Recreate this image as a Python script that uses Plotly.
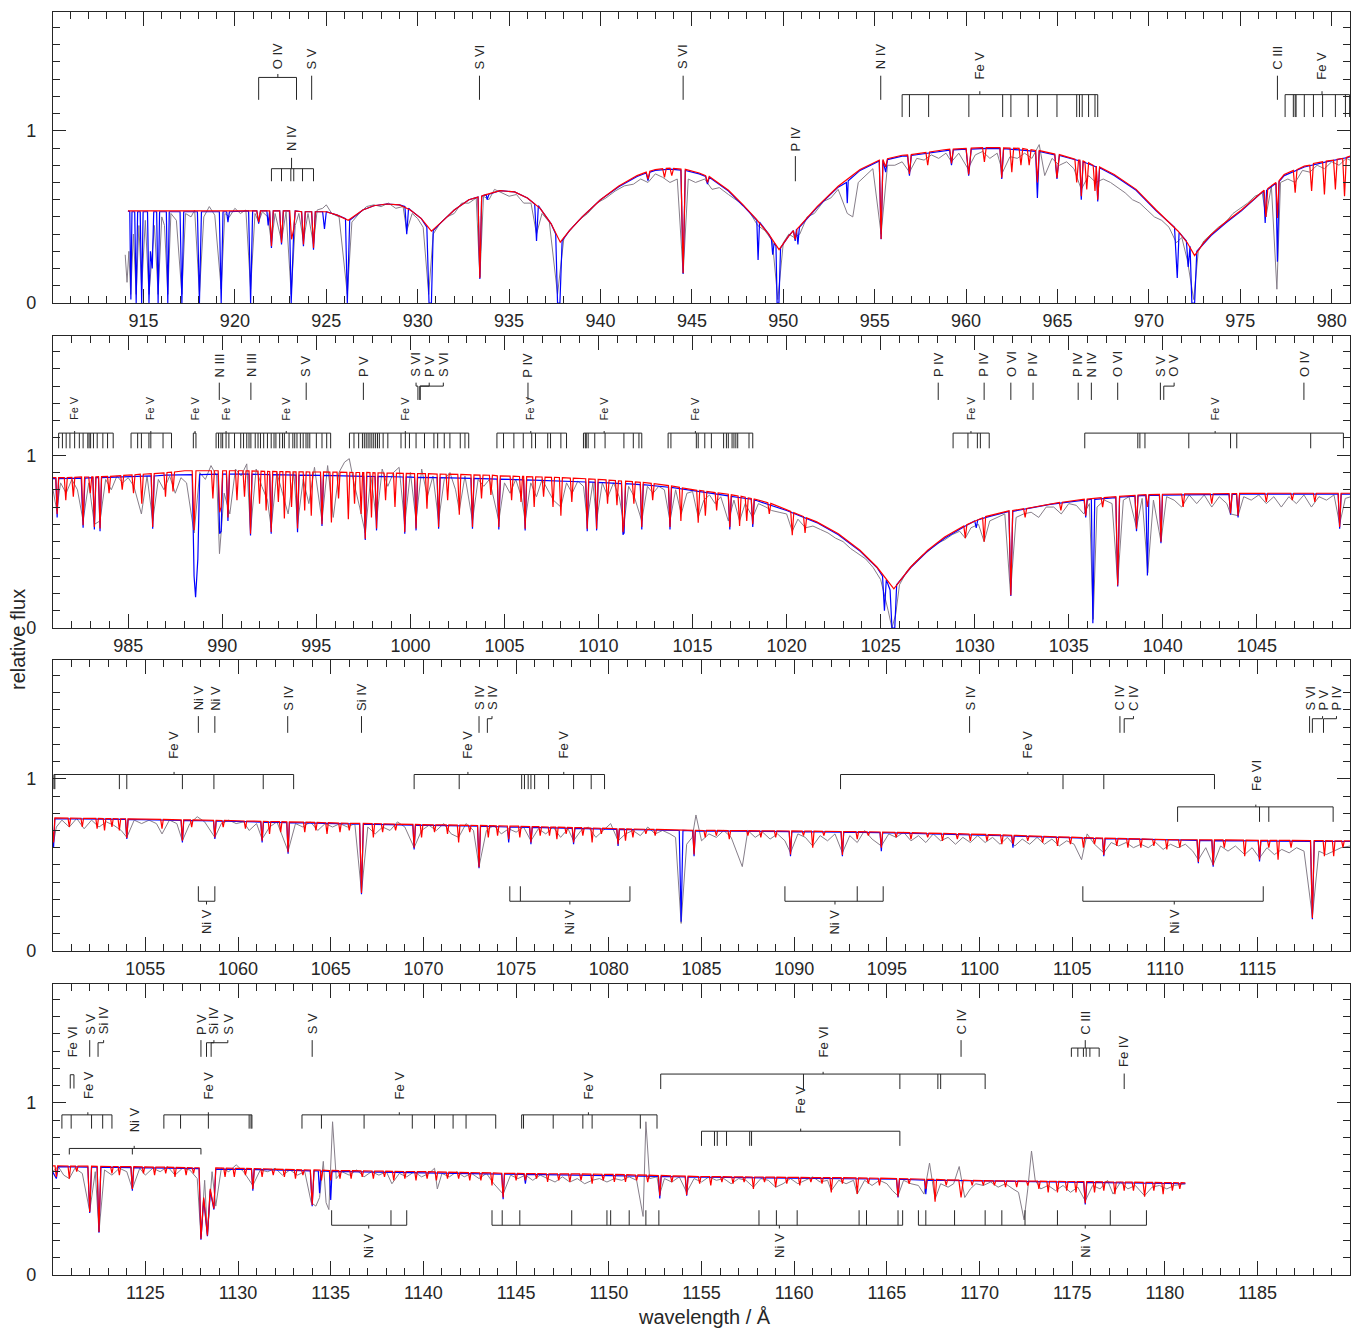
import plotly.graph_objects as go

# ------------------------------------------------------------------
# DATA
# ------------------------------------------------------------------
PANEL_RANGES = [(910.05, 981.0), (981.0, 1049.95), (1050.02, 1119.98), (1120.02, 1189.98)]
Y_RANGE = (0.0, 1.69)

# ---------------- panel 1 : 910 - 981 A ----------------
P1_GREY = [(914.0,0.28),(914.1,0.12),(914.2,0.30),(914.3,0.05),(914.45,0.40),(914.6,0.05),(914.75,0.45),(914.9,0.08),(915.1,0.48),(915.3,0.05),(915.45,0.25),(915.6,0.45),(915.8,0.05),(916.0,0.50),(916.15,0.45),(916.33,0.05),(916.5,0.52),(916.8,0.48),(917.1,0.05),(917.3,0.52),(917.6,0.50),(917.8,0.54),(918.06,0.05),(918.3,0.50),(918.6,0.56),(918.9,0.51),(919.25,0.08),(919.45,0.52),(919.7,0.50),(920.0,0.55),(920.3,0.52),(920.6,0.54),(920.86,0.08),(921.1,0.52),(921.3,0.47),(921.5,0.53),(921.8,0.50),(922.0,0.35),(922.2,0.52),(922.55,0.36),(922.8,0.53),(923.08,0.05),(923.3,0.45),(923.5,0.52),(923.75,0.36),(924.0,0.52),(924.3,0.34),(924.5,0.54),(924.8,0.55),(925.0,0.57),(925.3,0.52),(925.7,0.50),(926.15,0.05),(926.4,0.47),(926.8,0.52),(927.2,0.56),(927.6,0.57),(928.0,0.56),(928.4,0.58),(928.8,0.55),(929.2,0.56),(929.4,0.42),(929.7,0.52),(930.0,0.49),(930.3,0.44),(930.6,0.05),(930.85,0.40),(931.2,0.46),(931.6,0.50),(932.0,0.52),(932.4,0.58),(932.8,0.58),(933.2,0.61),(933.4,0.15),(933.6,0.62),(933.9,0.60),(934.2,0.66),(934.6,0.64),(935.0,0.62),(935.4,0.63),(935.8,0.58),(936.2,0.58),(936.5,0.40),(936.8,0.52),(937.2,0.47),(937.65,0.05),(938.0,0.38),(938.4,0.43),(938.8,0.48),(939.3,0.52),(939.8,0.58),(940.3,0.61),(940.8,0.65),(941.3,0.68),(941.8,0.69),(942.2,0.72),(942.6,0.70),(943.0,0.75),(943.4,0.73),(943.8,0.70),(944.2,0.72),(944.52,0.17),(944.8,0.72),(945.2,0.70),(945.7,0.72),(946.1,0.66),(946.5,0.67),(947.0,0.63),(947.4,0.60),(947.8,0.57),(948.2,0.52),(948.6,0.45),(949.0,0.42),(949.4,0.36),(949.7,0.02),(950.0,0.35),(950.3,0.40),(950.6,0.38),(950.9,0.40),(951.3,0.50),(951.7,0.52),(952.2,0.59),(952.6,0.61),(953.0,0.66),(953.5,0.52),(953.8,0.50),(954.1,0.70),(954.5,0.74),(954.9,0.78),(955.35,0.40),(955.7,0.80),(956.1,0.80),(956.5,0.82),(956.9,0.76),(957.3,0.84),(957.7,0.83),(958.1,0.86),(958.5,0.84),(958.9,0.87),(959.2,0.82),(959.6,0.87),(960.1,0.78),(960.5,0.86),(960.9,0.88),(961.3,0.84),(961.7,0.87),(962.0,0.76),(962.4,0.85),(962.8,0.84),(963.2,0.87),(963.6,0.84),(964.0,0.92),(964.3,0.74),(964.7,0.84),(965.1,0.80),(965.5,0.82),(965.9,0.78),(966.3,0.66),(966.7,0.74),(967.1,0.70),(967.5,0.72),(967.9,0.70),(968.3,0.67),(968.7,0.64),(969.1,0.60),(969.5,0.58),(969.9,0.54),(970.3,0.50),(970.7,0.48),(971.1,0.44),(971.5,0.35),(971.8,0.38),(972.1,0.25),(972.45,0.02),(972.7,0.30),(973.0,0.36),(973.4,0.40),(973.8,0.44),(974.2,0.47),(974.6,0.52),(975.0,0.55),(975.4,0.58),(975.8,0.62),(976.2,0.64),(976.4,0.50),(976.7,0.68),(977.0,0.08),(977.2,0.70),(977.6,0.72),(978.0,0.70),(978.4,0.77),(978.8,0.76),(979.2,0.80),(979.6,0.78),(980.0,0.82),(980.4,0.80),(980.8,0.84),(981.0,0.83)]

P1_BLUE = [(914.15,0.535),(914.25,0.53),(914.31,0.02),(914.37,0.53),(914.52,0.53),(914.6,0.0),(914.68,0.53),(914.82,0.53),(914.9,0.0),(914.98,0.53),(915.22,0.53),(915.3,0.0),(915.38,0.3),(915.48,0.2),(915.56,0.53),(915.72,0.53),(915.8,0.0),(915.88,0.53),(916.25,0.53),(916.33,0.0),(916.41,0.53),(917.0,0.53),(917.1,0.0),(917.2,0.53),(917.95,0.53),(918.06,0.0),(918.17,0.53),(919.15,0.53),(919.25,0.0),(919.35,0.53),(919.55,0.53),(919.62,0.47),(919.7,0.53),(920.75,0.535),(920.86,0.0),(920.97,0.535),(921.2,0.535),(921.3,0.46),(921.4,0.535),(921.75,0.535),(921.82,0.45),(921.9,0.535),(922.0,0.32),(922.1,0.535),(922.45,0.535),(922.55,0.34),(922.65,0.535),(922.98,0.535),(923.08,0.0),(923.18,0.3),(923.22,0.42),(923.3,0.535),(923.65,0.53),(923.75,0.33),(923.85,0.53),(924.2,0.53),(924.3,0.31),(924.4,0.53),(924.8,0.53),(924.9,0.43),(925.0,0.53),(925.6,0.51),(926.05,0.49),(926.15,0.0),(926.28,0.48),(927.0,0.54),(927.6,0.565),(928.3,0.575),(929.0,0.57),(929.3,0.56),(929.4,0.40),(929.5,0.55),(929.6,0.54),(930.2,0.49),(930.5,0.44),(930.62,0.0),(930.75,0.0),(930.85,0.42),(931.3,0.47),(932.0,0.54),(932.8,0.60),(933.3,0.615),(933.4,0.14),(933.5,0.62),(933.6,0.625),(933.75,0.63),(933.8,0.60),(933.9,0.632),(934.5,0.653),(935.3,0.645),(936.0,0.61),(936.4,0.575),(936.5,0.36),(936.6,0.565),(936.7,0.55),(937.3,0.46),(937.55,0.40),(937.65,0.0),(937.78,0.0),(937.9,0.36),(938.3,0.42),(939.0,0.50),(940.0,0.60),(941.0,0.675),(942.0,0.735),(942.5,0.755),(942.6,0.71),(942.7,0.76),(943.0,0.77),(943.8,0.778),(944.4,0.772),(944.52,0.17),(944.64,0.77),(945.4,0.75),(945.75,0.735),(945.85,0.69),(945.95,0.73),(946.2,0.71),(947.0,0.65),(947.8,0.565),(948.5,0.49),(948.55,0.48),(948.62,0.25),(948.7,0.47),(949.2,0.40),(949.35,0.37),(949.42,0.28),(949.5,0.35),(949.6,0.33),(949.66,0.0),(949.76,0.0),(949.85,0.32),(950.3,0.39),(950.55,0.42),(950.65,0.36),(950.72,0.43),(950.8,0.34),(950.88,0.44),(951.85,0.555),(953.0,0.673),(953.45,0.70),(953.5,0.58),(953.55,0.71),(954.2,0.77),(955.25,0.825),(955.35,0.37),(955.45,0.828),(955.6,0.76),(955.7,0.833),(956.5,0.853),(956.8,0.855),(956.9,0.74),(957.0,0.857),(958.8,0.885),(959.1,0.888),(959.2,0.80),(959.3,0.889),(960.0,0.893),(960.14,0.74),(960.28,0.894),(961.1,0.898),(961.85,0.897),(961.95,0.72),(962.05,0.896),(963.5,0.885),(963.8,0.881),(963.9,0.61),(964.0,0.88),(964.85,0.86),(964.97,0.72),(965.1,0.857),(965.8,0.835),(966.22,0.825),(966.3,0.60),(966.4,0.82),(967.12,0.79),(967.2,0.59),(967.3,0.785),(968.1,0.74),(969.3,0.655),(970.4,0.535),(971.4,0.44),(971.55,0.145),(971.65,0.41),(971.9,0.38),(972.05,0.36),(972.15,0.21),(972.25,0.33),(972.35,0.0),(972.5,0.0),(972.62,0.30),(973.0,0.345),(973.4,0.392),(974.2,0.465),(975.06,0.535),(976.2,0.645),(976.28,0.65),(976.36,0.465),(976.44,0.655),(976.95,0.695),(977.03,0.24),(977.12,0.705),(977.4,0.74),(978.5,0.79),(979.7,0.82),(981.0,0.848)]

P1_RED = [(914.15,0.535),(921.2,0.535),(921.3,0.47),(921.4,0.535),(921.9,0.535),(922.0,0.33),(922.1,0.535),(922.45,0.535),(922.55,0.35),(922.65,0.535),(923.0,0.535),(923.1,0.37),(923.22,0.43),(923.3,0.535),(923.65,0.53),(923.75,0.34),(923.85,0.53),(924.2,0.53),(924.3,0.32),(924.4,0.53),(925.0,0.53),(925.6,0.51),(926.2,0.48),(927.0,0.54),(927.6,0.565),(928.3,0.575),(929.0,0.57),(929.6,0.54),(930.2,0.49),(930.75,0.417),(931.3,0.47),(932.0,0.54),(932.8,0.60),(933.3,0.615),(933.4,0.145),(933.5,0.62),(933.6,0.625),(934.5,0.653),(935.3,0.645),(936.0,0.61),(936.7,0.55),(937.3,0.46),(937.8,0.353),(938.3,0.42),(939.0,0.50),(940.0,0.60),(941.0,0.68),(942.0,0.74),(942.5,0.76),(942.6,0.72),(942.7,0.765),(943.0,0.775),(943.4,0.78),(943.5,0.73),(943.6,0.782),(943.8,0.783),(943.9,0.74),(944.0,0.782),(944.4,0.778),(944.52,0.174),(944.64,0.776),(945.4,0.755),(945.75,0.74),(945.85,0.70),(945.95,0.735),(946.2,0.715),(947.0,0.655),(947.8,0.57),(948.5,0.49),(949.2,0.40),(949.77,0.31),(950.3,0.39),(950.55,0.42),(950.65,0.37),(950.75,0.43),(950.9,0.446),(951.85,0.56),(953.0,0.678),(954.2,0.775),(955.25,0.83),(955.35,0.372),(955.45,0.833),(955.6,0.79),(955.7,0.838),(956.5,0.858),(956.8,0.86),(956.9,0.75),(957.0,0.862),(957.8,0.875),(957.9,0.80),(958.0,0.877),(958.8,0.89),(959.1,0.893),(959.2,0.81),(959.3,0.894),(960.0,0.898),(960.14,0.746),(960.28,0.899),(960.9,0.902),(961.0,0.82),(961.1,0.903),(961.85,0.902),(961.95,0.727),(962.05,0.901),(962.4,0.90),(962.5,0.76),(962.6,0.90),(962.9,0.898),(963.0,0.80),(963.1,0.897),(963.35,0.892),(963.45,0.80),(963.55,0.89),(963.8,0.886),(963.9,0.70),(964.0,0.885),(964.85,0.865),(964.97,0.727),(965.1,0.862),(965.8,0.84),(965.95,0.835),(966.05,0.70),(966.15,0.83),(966.22,0.83),(966.3,0.62),(966.4,0.825),(966.5,0.82),(966.6,0.66),(966.7,0.815),(966.95,0.80),(967.05,0.65),(967.12,0.795),(967.2,0.60),(967.3,0.79),(968.1,0.746),(969.3,0.66),(970.4,0.54),(971.6,0.417),(972.1,0.35),(972.5,0.275),(973.0,0.35),(973.4,0.397),(974.2,0.47),(975.06,0.54),(976.2,0.65),(976.3,0.655),(976.4,0.50),(976.5,0.665),(976.95,0.70),(977.03,0.494),(977.12,0.71),(977.4,0.746),(977.9,0.77),(978.0,0.64),(978.1,0.775),(978.5,0.795),(978.8,0.80),(978.9,0.65),(979.0,0.81),(979.5,0.82),(979.6,0.63),(979.7,0.824),(980.1,0.83),(980.2,0.66),(980.3,0.835),(980.6,0.84),(980.7,0.62),(980.8,0.845),(981.0,0.853)]

# ---------------- panel 2 : 981 - 1050 A ----------------
P2_GREY = [(981.0,0.80),(981.2,0.68),(981.4,0.84),(981.7,0.78),(982.0,0.86),(982.3,0.80),(982.6,0.62),(982.9,0.84),(983.2,0.60),(983.5,0.62),(983.8,0.86),(984.1,0.80),(984.4,0.88),(984.7,0.84),(985.0,0.87),(985.3,0.82),(985.7,0.66),(986.0,0.88),(986.3,0.62),(986.6,0.86),(986.9,0.80),(987.2,0.88),(987.5,0.78),(987.8,0.87),(988.1,0.84),(988.5,0.55),(988.8,0.90),(989.1,0.86),(989.4,0.94),(989.7,0.88),(989.85,0.43),(990.1,0.78),(990.4,0.66),(990.7,0.92),(991.0,0.88),(991.3,0.95),(991.5,0.56),(991.8,0.92),(992.1,0.82),(992.4,0.74),(992.6,0.58),(992.9,0.90),(993.2,0.78),(993.5,0.66),(993.8,0.90),(994.0,0.60),(994.3,0.86),(994.6,0.72),(994.9,0.93),(995.3,0.62),(995.6,0.94),(995.9,0.64),(996.2,0.90),(996.5,0.96),(996.75,0.98),(997.0,0.84),(997.3,0.70),(997.6,0.55),(997.9,0.88),(998.2,0.62),(998.5,0.92),(998.8,0.82),(999.1,0.90),(999.4,0.93),(999.7,0.60),(1000.0,0.90),(1000.3,0.62),(1000.6,0.92),(1000.9,0.76),(1001.2,0.88),(1001.5,0.62),(1001.8,0.86),(1002.1,0.90),(1002.4,0.80),(1002.6,0.68),(1002.9,0.88),(1003.3,0.62),(1003.6,0.86),(1003.9,0.82),(1004.2,0.86),(1004.7,0.62),(1005.0,0.84),(1005.3,0.78),(1005.6,0.86),(1005.9,0.76),(1006.1,0.62),(1006.4,0.84),(1006.7,0.76),(1007.0,0.86),(1007.3,0.80),(1007.6,0.74),(1008.0,0.70),(1008.3,0.84),(1008.6,0.78),(1008.9,0.85),(1009.2,0.82),(1009.4,0.62),(1009.7,0.84),(1009.9,0.62),(1010.2,0.84),(1010.5,0.76),(1010.8,0.84),(1011.1,0.76),(1011.35,0.60),(1011.6,0.82),(1011.9,0.76),(1012.3,0.62),(1012.6,0.82),(1012.9,0.78),(1013.2,0.82),(1013.5,0.80),(1013.8,0.62),(1014.1,0.80),(1014.4,0.66),(1014.7,0.78),(1015.0,0.79),(1015.3,0.64),(1015.6,0.74),(1015.9,0.77),(1016.2,0.72),(1016.5,0.76),(1016.9,0.62),(1017.2,0.74),(1017.5,0.62),(1017.8,0.72),(1018.2,0.64),(1018.5,0.72),(1018.9,0.70),(1019.2,0.68),(1019.6,0.67),(1020.0,0.66),(1020.3,0.56),(1020.6,0.63),(1021.0,0.58),(1021.4,0.59),(1021.8,0.57),(1022.2,0.55),(1022.6,0.52),(1023.0,0.50),(1023.4,0.46),(1023.8,0.43),(1024.2,0.40),(1024.6,0.35),(1025.0,0.28),(1025.4,0.10),(1025.6,0.0),(1025.8,0.08),(1026.0,0.25),(1026.4,0.33),(1026.8,0.38),(1027.2,0.42),(1027.6,0.45),(1028.0,0.49),(1028.4,0.51),(1028.8,0.54),(1029.2,0.56),(1029.5,0.52),(1029.8,0.58),(1030.2,0.60),(1030.5,0.50),(1030.8,0.62),(1031.2,0.64),(1031.6,0.66),(1031.9,0.20),(1032.2,0.64),(1032.6,0.66),(1033.0,0.67),(1033.4,0.64),(1033.8,0.70),(1034.2,0.70),(1034.6,0.66),(1035.0,0.72),(1035.4,0.71),(1035.8,0.66),(1036.1,0.72),(1036.3,0.05),(1036.5,0.70),(1036.9,0.74),(1037.3,0.72),(1037.6,0.26),(1037.9,0.74),(1038.2,0.76),(1038.6,0.58),(1038.9,0.75),(1039.2,0.32),(1039.5,0.74),(1039.9,0.50),(1040.2,0.76),(1040.6,0.74),(1041.0,0.70),(1041.4,0.77),(1041.8,0.72),(1042.2,0.77),(1042.6,0.70),(1043.0,0.76),(1043.4,0.72),(1043.6,0.66),(1044.0,0.65),(1044.3,0.76),(1044.7,0.74),(1045.1,0.77),(1045.5,0.72),(1045.9,0.76),(1046.3,0.70),(1046.7,0.76),(1047.1,0.72),(1047.5,0.77),(1047.9,0.70),(1048.3,0.76),(1048.7,0.74),(1049.1,0.77),(1049.4,0.60),(1049.7,0.75),(1050.0,0.76)]

P2_BLUE = [(981.0,0.865),(981.15,0.865),(981.22,0.64),(981.3,0.865),(982.5,0.868),(982.6,0.58),(982.7,0.868),(983.12,0.87),(983.2,0.57),(983.28,0.87),(983.42,0.87),(983.5,0.56),(983.58,0.87),(985.0,0.875),(986.22,0.88),(986.3,0.575),(986.38,0.88),(987.0,0.885),(988.0,0.888),(988.4,0.888),(988.5,0.30),(988.58,0.178),(988.7,0.40),(988.8,0.888),(989.78,0.89),(989.86,0.546),(989.94,0.56),(990.02,0.89),(990.22,0.89),(990.3,0.62),(990.38,0.89),(991.42,0.89),(991.5,0.535),(991.58,0.89),(992.52,0.888),(992.6,0.545),(992.68,0.888),(993.92,0.885),(994.0,0.555),(994.08,0.885),(995.22,0.883),(995.3,0.59),(995.38,0.883),(997.52,0.878),(997.6,0.51),(997.68,0.878),(998.12,0.877),(998.2,0.565),(998.28,0.877),(999.62,0.874),(999.7,0.545),(999.78,0.874),(1000.22,0.872),(1000.3,0.565),(1000.38,0.872),(1001.42,0.87),(1001.5,0.575),(1001.58,0.87),(1003.22,0.866),(1003.3,0.575),(1003.38,0.866),(1004.62,0.862),(1004.7,0.57),(1004.78,0.862),(1006.02,0.857),(1006.1,0.565),(1006.18,0.857),(1009.32,0.845),(1009.4,0.56),(1009.48,0.845),(1009.82,0.843),(1009.9,0.565),(1009.98,0.843),(1011.22,0.836),(1011.3,0.54),(1011.36,0.55),(1011.44,0.835),(1012.22,0.83),(1012.3,0.57),(1012.38,0.83),(1013.72,0.815),(1013.8,0.57),(1013.88,0.813),(1015.0,0.795),(1016.9,0.765),(1016.98,0.57),(1017.06,0.762),(1018.12,0.745),(1018.2,0.585),(1018.28,0.742),(1020.0,0.68),(1021.6,0.61),(1022.75,0.54),(1023.9,0.445),(1024.8,0.35),(1025.1,0.30),(1025.2,0.10),(1025.3,0.28),(1025.5,0.22),(1025.6,0.0),(1025.75,0.0),(1025.85,0.25),(1026.6,0.35),(1027.5,0.445),(1028.4,0.52),(1029.5,0.59),(1030.0,0.62),(1030.08,0.58),(1030.16,0.625),(1030.65,0.642),(1031.82,0.675),(1031.92,0.185),(1032.02,0.675),(1034.0,0.715),(1035.82,0.74),(1035.9,0.64),(1035.98,0.741),(1036.2,0.745),(1036.28,0.027),(1036.38,0.745),(1037.5,0.755),(1037.6,0.24),(1037.7,0.757),(1038.52,0.763),(1038.6,0.56),(1038.68,0.765),(1039.1,0.767),(1039.18,0.304),(1039.26,0.767),(1039.82,0.768),(1039.9,0.49),(1039.98,0.769),(1040.8,0.77),(1043.52,0.773),(1043.6,0.655),(1043.68,0.773),(1043.92,0.773),(1044.0,0.64),(1044.08,0.774),(1049.32,0.775),(1049.4,0.575),(1049.48,0.775),(1050.0,0.775)]

P2_RED = [(981.0,0.87),(981.15,0.87),(981.22,0.66),(981.3,0.87),(981.6,0.871),(981.68,0.74),(981.76,0.871),(982.0,0.872),(982.08,0.76),(982.16,0.872),(982.52,0.874),(982.6,0.595),(982.68,0.874),(982.9,0.874),(982.98,0.78),(983.06,0.875),(983.12,0.875),(983.2,0.585),(983.28,0.875),(983.42,0.876),(983.5,0.576),(983.58,0.876),(983.9,0.877),(983.98,0.78),(984.06,0.878),(984.6,0.882),(984.68,0.80),(984.76,0.883),(985.2,0.886),(985.28,0.78),(985.36,0.887),(985.64,0.89),(985.72,0.72),(985.8,0.89),(986.22,0.893),(986.3,0.585),(986.38,0.894),(986.9,0.898),(986.98,0.76),(987.06,0.90),(987.3,0.902),(987.38,0.79),(987.46,0.903),(988.0,0.91),(988.4,0.91),(988.5,0.566),(988.6,0.91),(989.42,0.91),(989.5,0.75),(989.58,0.91),(989.78,0.91),(989.86,0.67),(989.94,0.70),(990.02,0.91),(990.22,0.91),(990.3,0.64),(990.38,0.91),(990.7,0.91),(990.78,0.74),(990.86,0.91),(991.1,0.91),(991.18,0.76),(991.26,0.91),(991.42,0.909),(991.5,0.546),(991.58,0.909),(991.9,0.908),(991.98,0.72),(992.06,0.908),(992.25,0.907),(992.33,0.68),(992.41,0.907),(992.52,0.906),(992.6,0.556),(992.68,0.906),(992.9,0.905),(992.98,0.73),(993.06,0.905),(993.22,0.905),(993.3,0.634),(993.38,0.905),(993.6,0.904),(993.68,0.70),(993.76,0.904),(993.92,0.904),(994.0,0.576),(994.08,0.904),(994.3,0.904),(994.38,0.68),(994.46,0.904),(994.65,0.903),(994.73,0.65),(994.81,0.903),(995.22,0.903),(995.3,0.60),(995.38,0.903),(995.72,0.902),(995.8,0.61),(995.88,0.902),(996.1,0.902),(996.18,0.75),(996.26,0.902),(996.62,0.901),(996.7,0.63),(996.78,0.901),(996.95,0.90),(997.03,0.72),(997.11,0.90),(997.3,0.90),(997.38,0.66),(997.46,0.90),(997.52,0.90),(997.6,0.517),(997.68,0.90),(997.85,0.899),(997.93,0.64),(998.01,0.899),(998.12,0.898),(998.2,0.576),(998.28,0.898),(998.6,0.897),(998.68,0.74),(998.76,0.897),(999.1,0.896),(999.18,0.70),(999.26,0.896),(999.62,0.895),(999.7,0.556),(999.78,0.895),(1000.22,0.894),(1000.3,0.576),(1000.38,0.894),(1000.8,0.893),(1000.88,0.69),(1000.96,0.893),(1001.42,0.891),(1001.5,0.585),(1001.58,0.891),(1001.9,0.89),(1001.98,0.74),(1002.06,0.89),(1002.52,0.889),(1002.6,0.655),(1002.68,0.889),(1003.22,0.886),(1003.3,0.585),(1003.38,0.886),(1003.7,0.885),(1003.78,0.75),(1003.86,0.885),(1004.2,0.884),(1004.28,0.77),(1004.36,0.884),(1004.62,0.881),(1004.7,0.585),(1004.78,0.881),(1005.3,0.879),(1005.38,0.74),(1005.46,0.879),(1005.8,0.877),(1005.88,0.73),(1005.96,0.877),(1006.02,0.877),(1006.1,0.575),(1006.18,0.876),(1006.5,0.875),(1006.58,0.70),(1006.66,0.875),(1007.0,0.874),(1007.08,0.76),(1007.16,0.873),(1007.5,0.872),(1007.58,0.70),(1007.66,0.872),(1007.92,0.871),(1008.0,0.65),(1008.08,0.87),(1008.5,0.868),(1008.58,0.73),(1008.66,0.867),(1009.32,0.864),(1009.4,0.575),(1009.48,0.863),(1009.82,0.861),(1009.9,0.575),(1009.98,0.86),(1010.4,0.857),(1010.48,0.72),(1010.56,0.856),(1010.9,0.853),(1010.98,0.71),(1011.06,0.852),(1011.22,0.851),(1011.3,0.555),(1011.36,0.60),(1011.44,0.85),(1011.8,0.847),(1011.88,0.72),(1011.96,0.846),(1012.22,0.843),(1012.3,0.585),(1012.38,0.842),(1012.8,0.837),(1012.88,0.74),(1012.96,0.836),(1013.72,0.824),(1013.8,0.585),(1013.88,0.822),(1014.3,0.814),(1014.38,0.62),(1014.46,0.811),(1015.22,0.797),(1015.3,0.61),(1015.38,0.796),(1015.6,0.793),(1015.68,0.65),(1015.76,0.791),(1016.2,0.784),(1016.28,0.68),(1016.36,0.782),(1016.9,0.774),(1016.98,0.585),(1017.06,0.771),(1017.42,0.764),(1017.5,0.59),(1017.58,0.762),(1017.8,0.757),(1017.88,0.62),(1017.96,0.753),(1018.12,0.75),(1018.2,0.60),(1018.28,0.747),(1019.0,0.725),(1019.08,0.66),(1019.16,0.721),(1020.0,0.685),(1020.22,0.675),(1020.3,0.537),(1020.38,0.668),(1020.9,0.645),(1020.98,0.55),(1021.06,0.638),(1021.6,0.614),(1022.75,0.546),(1023.9,0.45),(1024.8,0.353),(1025.7,0.227),(1026.6,0.353),(1027.5,0.45),(1028.4,0.527),(1029.42,0.59),(1029.5,0.52),(1029.58,0.598),(1030.42,0.638),(1030.5,0.50),(1030.58,0.645),(1031.82,0.678),(1031.92,0.19),(1032.02,0.68),(1032.6,0.69),(1032.68,0.64),(1032.76,0.692),(1034.0,0.72),(1034.5,0.727),(1034.58,0.68),(1034.66,0.728),(1035.82,0.745),(1035.9,0.65),(1035.98,0.746),(1036.72,0.754),(1036.8,0.70),(1036.88,0.755),(1037.5,0.76),(1037.6,0.246),(1037.7,0.762),(1038.52,0.768),(1038.6,0.575),(1038.68,0.77),(1039.1,0.772),(1039.18,0.70),(1039.26,0.772),(1039.82,0.773),(1039.9,0.50),(1039.98,0.774),(1041.0,0.775),(1041.08,0.70),(1041.16,0.776),(1042.52,0.777),(1042.6,0.72),(1042.68,0.777),(1043.52,0.778),(1043.6,0.663),(1043.68,0.778),(1043.92,0.778),(1044.0,0.65),(1044.08,0.779),(1045.42,0.78),(1045.5,0.73),(1045.58,0.78),(1046.8,0.78),(1046.88,0.74),(1046.96,0.78),(1048.0,0.78),(1048.08,0.73),(1048.16,0.78),(1049.32,0.78),(1049.4,0.585),(1049.48,0.78),(1050.0,0.78)]

# ---------------- panel 3 : 1050 - 1120 A ----------------
P3_GREY = [(1050.0,0.60),(1050.2,0.72),(1050.5,0.76),(1050.9,0.72),(1051.3,0.77),(1051.7,0.71),(1052.1,0.76),(1052.5,0.72),(1052.9,0.75),(1053.3,0.73),(1053.7,0.70),(1054.0,0.66),(1054.4,0.76),(1054.8,0.74),(1055.2,0.76),(1055.6,0.74),(1055.9,0.68),(1056.3,0.76),(1056.7,0.74),(1057.0,0.64),(1057.4,0.74),(1057.8,0.78),(1058.2,0.75),(1058.75,0.66),(1059.1,0.74),(1059.5,0.76),(1059.9,0.74),(1060.3,0.75),(1060.6,0.70),(1061.0,0.74),(1061.3,0.65),(1061.7,0.72),(1062.1,0.75),(1062.7,0.58),(1063.1,0.74),(1063.5,0.72),(1063.9,0.75),(1064.3,0.70),(1064.7,0.74),(1065.1,0.72),(1065.5,0.74),(1065.9,0.72),(1066.3,0.74),(1066.66,0.34),(1067.0,0.72),(1067.4,0.68),(1067.8,0.72),(1068.2,0.70),(1068.6,0.75),(1069.0,0.72),(1069.5,0.60),(1069.9,0.70),(1070.3,0.73),(1070.7,0.70),(1071.1,0.74),(1071.5,0.68),(1071.9,0.66),(1072.3,0.74),(1072.7,0.70),(1073.0,0.49),(1073.4,0.70),(1073.8,0.73),(1074.2,0.68),(1074.6,0.71),(1075.0,0.69),(1075.4,0.72),(1075.8,0.64),(1076.2,0.71),(1076.6,0.68),(1077.0,0.72),(1077.4,0.66),(1077.8,0.71),(1078.1,0.64),(1078.5,0.70),(1078.9,0.72),(1079.3,0.66),(1079.7,0.70),(1080.1,0.74),(1080.5,0.64),(1080.9,0.68),(1081.3,0.70),(1081.7,0.67),(1082.1,0.72),(1082.5,0.68),(1082.9,0.70),(1083.3,0.68),(1083.6,0.66),(1083.9,0.16),(1084.2,0.62),(1084.5,0.66),(1084.7,0.79),(1085.0,0.64),(1085.4,0.68),(1085.8,0.66),(1086.2,0.70),(1086.6,0.66),(1087.2,0.49),(1087.5,0.70),(1087.9,0.66),(1088.3,0.69),(1088.7,0.65),(1089.1,0.68),(1089.5,0.64),(1089.8,0.57),(1090.2,0.68),(1090.6,0.66),(1091.0,0.61),(1091.4,0.67),(1091.8,0.64),(1092.2,0.68),(1092.6,0.57),(1093.0,0.67),(1093.4,0.63),(1093.8,0.70),(1094.2,0.65),(1094.7,0.61),(1095.1,0.68),(1095.5,0.66),(1095.9,0.69),(1096.3,0.64),(1096.7,0.67),(1097.1,0.63),(1097.5,0.68),(1097.9,0.64),(1098.3,0.66),(1098.7,0.62),(1099.1,0.66),(1099.5,0.63),(1099.9,0.67),(1100.3,0.63),(1100.7,0.66),(1101.1,0.62),(1101.5,0.66),(1101.9,0.61),(1102.3,0.65),(1102.7,0.62),(1103.1,0.66),(1103.5,0.62),(1103.9,0.65),(1104.3,0.61),(1104.7,0.64),(1105.1,0.62),(1105.5,0.53),(1105.8,0.68),(1106.2,0.62),(1106.7,0.57),(1107.1,0.63),(1107.5,0.61),(1107.9,0.63),(1108.3,0.60),(1108.7,0.62),(1109.1,0.60),(1109.5,0.63),(1109.9,0.59),(1110.3,0.62),(1110.7,0.60),(1111.1,0.62),(1111.5,0.58),(1111.8,0.53),(1112.2,0.60),(1112.6,0.50),(1113.0,0.61),(1113.4,0.58),(1113.8,0.61),(1114.3,0.56),(1114.7,0.60),(1115.1,0.54),(1115.5,0.60),(1115.9,0.56),(1116.3,0.59),(1116.7,0.57),(1117.1,0.60),(1117.5,0.58),(1117.95,0.20),(1118.3,0.58),(1118.7,0.56),(1119.1,0.58),(1119.5,0.60),(1120.0,0.61)]

P3_BLUE = [(1050.0,0.66),(1050.05,0.60),(1050.12,0.768),(1052.0,0.766),(1053.93,0.764),(1054.0,0.65),(1054.07,0.764),(1056.93,0.758),(1057.0,0.63),(1057.07,0.758),(1058.68,0.755),(1058.75,0.65),(1058.82,0.755),(1061.23,0.749),(1061.3,0.63),(1061.37,0.749),(1062.63,0.746),(1062.7,0.565),(1062.77,0.746),(1066.56,0.737),(1066.66,0.33),(1066.76,0.737),(1069.43,0.731),(1069.5,0.59),(1069.57,0.731),(1072.92,0.725),(1073.0,0.48),(1073.08,0.725),(1074.53,0.72),(1074.6,0.63),(1074.67,0.72),(1075.73,0.718),(1075.8,0.62),(1075.87,0.718),(1078.03,0.712),(1078.1,0.62),(1078.17,0.712),(1080.43,0.706),(1080.5,0.61),(1080.57,0.706),(1083.8,0.70),(1083.9,0.17),(1084.0,0.70),(1084.53,0.698),(1084.6,0.55),(1084.67,0.698),(1089.73,0.693),(1089.8,0.55),(1089.87,0.693),(1092.53,0.69),(1092.6,0.55),(1092.67,0.69),(1094.63,0.687),(1094.7,0.58),(1094.77,0.687),(1101.73,0.668),(1101.8,0.60),(1101.87,0.668),(1106.63,0.652),(1106.7,0.55),(1106.77,0.652),(1111.73,0.642),(1111.8,0.51),(1111.87,0.642),(1112.53,0.641),(1112.6,0.49),(1112.67,0.641),(1115.03,0.639),(1115.1,0.52),(1115.17,0.639),(1117.85,0.637),(1117.95,0.185),(1118.05,0.637),(1120.0,0.636)]

P3_RED = [(1050.0,0.70),(1050.05,0.63),(1050.12,0.773),(1050.83,0.772),(1050.9,0.72),(1050.97,0.772),(1051.53,0.771),(1051.6,0.72),(1051.67,0.771),(1052.33,0.770),(1052.4,0.71),(1052.47,0.770),(1052.73,0.769),(1052.8,0.70),(1052.87,0.769),(1053.13,0.769),(1053.2,0.72),(1053.27,0.769),(1053.53,0.768),(1053.6,0.70),(1053.67,0.768),(1053.93,0.768),(1054.0,0.657),(1054.07,0.767),(1055.83,0.764),(1055.9,0.71),(1055.97,0.764),(1056.93,0.762),(1057.0,0.64),(1057.07,0.762),(1057.43,0.761),(1057.5,0.72),(1057.57,0.761),(1058.68,0.759),(1058.75,0.66),(1058.82,0.759),(1059.13,0.758),(1059.2,0.72),(1059.27,0.758),(1060.33,0.755),(1060.4,0.71),(1060.47,0.755),(1061.23,0.753),(1061.3,0.64),(1061.37,0.753),(1061.63,0.752),(1061.7,0.68),(1061.77,0.752),(1062.23,0.751),(1062.3,0.69),(1062.37,0.751),(1062.63,0.750),(1062.7,0.574),(1062.77,0.750),(1063.53,0.748),(1063.6,0.69),(1063.67,0.748),(1064.13,0.747),(1064.2,0.70),(1064.27,0.747),(1064.73,0.745),(1064.8,0.68),(1064.87,0.745),(1065.43,0.743),(1065.5,0.69),(1065.57,0.743),(1065.93,0.742),(1066.0,0.70),(1066.07,0.742),(1066.56,0.741),(1066.66,0.337),(1066.76,0.741),(1067.23,0.740),(1067.3,0.66),(1067.37,0.740),(1067.73,0.739),(1067.8,0.69),(1067.87,0.739),(1068.43,0.737),(1068.5,0.70),(1068.57,0.737),(1069.43,0.735),(1069.5,0.60),(1069.57,0.735),(1069.83,0.734),(1069.9,0.66),(1069.97,0.734),(1070.53,0.733),(1070.6,0.69),(1070.67,0.733),(1071.23,0.732),(1071.3,0.68),(1071.37,0.732),(1071.83,0.731),(1071.9,0.63),(1071.97,0.731),(1072.43,0.730),(1072.5,0.69),(1072.57,0.730),(1072.92,0.729),(1073.0,0.486),(1073.08,0.729),(1073.43,0.728),(1073.5,0.66),(1073.57,0.728),(1073.93,0.727),(1074.0,0.67),(1074.07,0.727),(1074.53,0.726),(1074.6,0.65),(1074.67,0.726),(1075.13,0.725),(1075.2,0.66),(1075.27,0.724),(1075.73,0.723),(1075.8,0.63),(1075.87,0.723),(1076.23,0.722),(1076.3,0.67),(1076.37,0.721),(1076.73,0.720),(1076.8,0.67),(1076.87,0.720),(1077.13,0.719),(1077.2,0.65),(1077.27,0.719),(1077.63,0.718),(1077.7,0.68),(1077.77,0.718),(1078.03,0.717),(1078.1,0.63),(1078.17,0.717),(1078.53,0.716),(1078.6,0.67),(1078.67,0.715),(1079.03,0.714),(1079.1,0.63),(1079.17,0.714),(1079.53,0.713),(1079.6,0.68),(1079.67,0.713),(1080.43,0.710),(1080.5,0.62),(1080.57,0.710),(1080.83,0.709),(1080.9,0.64),(1080.97,0.709),(1081.23,0.708),(1081.3,0.66),(1081.37,0.708),(1081.93,0.707),(1082.0,0.68),(1082.07,0.707),(1082.43,0.706),(1082.5,0.67),(1082.57,0.706),(1084.53,0.701),(1084.6,0.56),(1084.67,0.701),(1085.13,0.700),(1085.2,0.66),(1085.27,0.700),(1085.73,0.700),(1085.8,0.67),(1085.87,0.700),(1086.43,0.699),(1086.5,0.65),(1086.57,0.699),(1087.43,0.699),(1087.5,0.67),(1087.57,0.699),(1088.13,0.698),(1088.2,0.66),(1088.27,0.698),(1088.93,0.698),(1089.0,0.66),(1089.07,0.698),(1089.73,0.697),(1089.8,0.56),(1089.87,0.697),(1090.43,0.696),(1090.5,0.67),(1090.57,0.696),(1090.93,0.696),(1091.0,0.60),(1091.07,0.696),(1091.53,0.695),(1091.6,0.67),(1091.67,0.695),(1092.53,0.694),(1092.6,0.558),(1092.67,0.694),(1093.33,0.693),(1093.4,0.65),(1093.47,0.693),(1093.93,0.692),(1094.0,0.67),(1094.07,0.692),(1094.63,0.691),(1094.7,0.60),(1094.77,0.691),(1095.43,0.689),(1095.5,0.66),(1095.57,0.689),(1096.23,0.687),(1096.3,0.65),(1096.37,0.687),(1097.13,0.685),(1097.2,0.66),(1097.27,0.685),(1097.93,0.683),(1098.0,0.64),(1098.07,0.683),(1098.73,0.681),(1098.8,0.65),(1098.87,0.681),(1099.43,0.679),(1099.5,0.64),(1099.57,0.679),(1100.33,0.677),(1100.4,0.64),(1100.47,0.676),(1101.13,0.674),(1101.2,0.62),(1101.27,0.674),(1101.73,0.672),(1101.8,0.62),(1101.87,0.672),(1102.53,0.669),(1102.6,0.64),(1102.67,0.669),(1103.33,0.666),(1103.4,0.63),(1103.47,0.666),(1104.13,0.663),(1104.2,0.61),(1104.27,0.663),(1104.83,0.661),(1104.9,0.62),(1104.97,0.661),(1105.53,0.659),(1105.6,0.60),(1105.67,0.659),(1106.13,0.657),(1106.2,0.62),(1106.27,0.657),(1106.63,0.656),(1106.7,0.558),(1106.77,0.656),(1107.33,0.654),(1107.4,0.61),(1107.47,0.654),(1107.93,0.653),(1108.0,0.60),(1108.07,0.652),(1108.63,0.651),(1108.7,0.60),(1108.77,0.651),(1109.33,0.649),(1109.4,0.61),(1109.47,0.649),(1110.03,0.647),(1110.1,0.59),(1110.17,0.647),(1110.73,0.646),(1110.8,0.60),(1110.87,0.646),(1111.73,0.646),(1111.8,0.517),(1111.87,0.646),(1112.53,0.645),(1112.6,0.498),(1112.67,0.645),(1113.13,0.645),(1113.2,0.60),(1113.27,0.645),(1114.23,0.644),(1114.3,0.55),(1114.37,0.644),(1115.03,0.643),(1115.1,0.53),(1115.17,0.643),(1115.53,0.643),(1115.6,0.60),(1115.67,0.643),(1116.03,0.642),(1116.1,0.53),(1116.17,0.642),(1116.73,0.642),(1116.8,0.60),(1116.87,0.642),(1117.85,0.641),(1117.95,0.192),(1118.05,0.641),(1118.53,0.641),(1118.6,0.55),(1118.67,0.641),(1119.03,0.640),(1119.1,0.55),(1119.17,0.640),(1119.53,0.640),(1119.6,0.60),(1119.67,0.640),(1120.0,0.64)]

# ---------------- panel 4 : 1120 - 1190 A ----------------
P4_GREY = [(1120.0,0.60),(1120.3,0.63),(1120.6,0.58),(1120.9,0.56),(1121.2,0.62),(1121.6,0.59),(1122.0,0.37),(1122.3,0.60),(1122.5,0.25),(1122.8,0.61),(1123.2,0.58),(1123.6,0.62),(1124.0,0.60),(1124.3,0.50),(1124.7,0.62),(1125.0,0.58),(1125.4,0.62),(1125.8,0.60),(1126.2,0.63),(1126.6,0.58),(1127.0,0.62),(1127.4,0.61),(1127.8,0.56),(1128.0,0.22),(1128.2,0.55),(1128.35,0.24),(1128.6,0.60),(1128.8,0.40),(1129.1,0.62),(1129.5,0.60),(1129.9,0.64),(1130.3,0.60),(1130.8,0.52),(1131.2,0.61),(1131.6,0.60),(1132.0,0.62),(1132.4,0.58),(1132.8,0.61),(1133.2,0.58),(1133.6,0.60),(1133.95,0.42),(1134.2,0.40),(1134.4,0.45),(1134.6,0.66),(1134.75,0.42),(1134.9,0.38),(1135.1,0.89),(1135.3,0.56),(1135.6,0.60),(1136.0,0.58),(1136.4,0.61),(1136.8,0.57),(1137.2,0.60),(1137.6,0.58),(1138.0,0.60),(1138.3,0.53),(1138.7,0.59),(1139.1,0.57),(1139.5,0.60),(1139.9,0.57),(1140.3,0.59),(1140.6,0.62),(1140.75,0.50),(1141.0,0.59),(1141.4,0.57),(1141.8,0.60),(1142.2,0.57),(1142.6,0.59),(1143.0,0.56),(1143.4,0.59),(1143.8,0.53),(1144.3,0.47),(1144.7,0.58),(1145.1,0.56),(1145.5,0.58),(1145.9,0.55),(1146.3,0.58),(1146.7,0.56),(1147.1,0.54),(1147.5,0.57),(1147.9,0.54),(1148.3,0.56),(1148.7,0.53),(1149.1,0.55),(1149.5,0.56),(1149.9,0.54),(1150.3,0.56),(1150.7,0.55),(1151.1,0.57),(1151.5,0.55),(1151.85,0.34),(1152.0,0.89),(1152.2,0.56),(1152.6,0.57),(1152.75,0.47),(1153.0,0.56),(1153.4,0.54),(1153.8,0.57),(1154.2,0.48),(1154.6,0.56),(1155.0,0.54),(1155.4,0.57),(1155.8,0.55),(1156.2,0.56),(1156.6,0.53),(1157.0,0.56),(1157.4,0.55),(1157.8,0.51),(1158.2,0.56),(1158.6,0.55),(1159.0,0.51),(1159.4,0.53),(1159.8,0.56),(1160.2,0.53),(1160.6,0.55),(1161.0,0.57),(1161.4,0.54),(1161.8,0.55),(1162.0,0.49),(1162.4,0.55),(1162.8,0.53),(1163.2,0.55),(1163.4,0.47),(1163.8,0.55),(1164.2,0.52),(1164.6,0.55),(1165.0,0.53),(1165.3,0.49),(1165.6,0.46),(1165.9,0.55),(1166.3,0.53),(1166.7,0.52),(1167.0,0.47),(1167.3,0.65),(1167.6,0.44),(1167.9,0.53),(1168.3,0.51),(1168.6,0.53),(1168.9,0.63),(1169.2,0.45),(1169.5,0.50),(1169.8,0.53),(1170.2,0.52),(1170.6,0.54),(1171.0,0.51),(1171.4,0.53),(1171.8,0.50),(1172.1,0.48),(1172.4,0.32),(1172.6,0.50),(1172.8,0.72),(1173.0,0.55),(1173.3,0.50),(1173.7,0.52),(1174.1,0.49),(1174.5,0.52),(1174.9,0.48),(1175.3,0.51),(1175.7,0.43),(1176.1,0.52),(1176.5,0.50),(1176.9,0.55),(1177.2,0.47),(1177.6,0.54),(1178.0,0.50),(1178.4,0.52),(1178.9,0.46),(1179.3,0.51),(1179.7,0.52),(1180.1,0.50),(1180.5,0.52),(1181.1,0.53)]

P4_BLUE = [(1120.0,0.60),(1120.2,0.56),(1120.3,0.629),(1121.9,0.627),(1122.0,0.36),(1122.1,0.626),(1122.4,0.626),(1122.5,0.245),(1122.6,0.626),(1124.23,0.624),(1124.3,0.49),(1124.37,0.624),(1127.9,0.618),(1128.0,0.205),(1128.15,0.44),(1128.35,0.225),(1128.5,0.49),(1128.7,0.38),(1128.8,0.615),(1130.73,0.613),(1130.8,0.49),(1130.87,0.613),(1133.9,0.605),(1134.0,0.40),(1134.1,0.605),(1134.33,0.604),(1134.4,0.475),(1134.47,0.604),(1134.93,0.602),(1135.0,0.436),(1135.07,0.602),(1144.23,0.586),(1144.3,0.44),(1144.37,0.586),(1145.43,0.584),(1145.5,0.53),(1145.57,0.584),(1152.68,0.573),(1152.75,0.445),(1152.82,0.573),(1154.13,0.569),(1154.2,0.46),(1154.27,0.569),(1165.52,0.556),(1165.6,0.45),(1165.68,0.556),(1167.03,0.551),(1167.1,0.47),(1167.17,0.551),(1175.62,0.538),(1175.7,0.41),(1175.78,0.538),(1181.1,0.53)]

P4_RED = [(1120.0,0.634),(1120.13,0.634),(1120.2,0.57),(1120.27,0.634),(1120.83,0.633),(1120.9,0.56),(1120.97,0.633),(1121.23,0.632),(1121.3,0.60),(1121.37,0.632),(1121.9,0.632),(1122.0,0.366),(1122.1,0.632),(1122.4,0.631),(1122.5,0.25),(1122.6,0.631),(1123.13,0.630),(1123.2,0.59),(1123.27,0.630),(1123.53,0.630),(1123.6,0.58),(1123.67,0.630),(1124.22,0.629),(1124.3,0.50),(1124.38,0.629),(1124.83,0.628),(1124.9,0.59),(1124.97,0.628),(1125.43,0.627),(1125.5,0.58),(1125.57,0.627),(1126.03,0.626),(1126.1,0.59),(1126.17,0.626),(1126.53,0.625),(1126.6,0.57),(1126.67,0.625),(1127.13,0.624),(1127.2,0.58),(1127.27,0.624),(1127.53,0.623),(1127.6,0.59),(1127.67,0.623),(1127.9,0.623),(1128.0,0.21),(1128.15,0.45),(1128.35,0.23),(1128.5,0.50),(1128.7,0.386),(1128.8,0.622),(1129.23,0.621),(1129.3,0.57),(1129.37,0.621),(1129.73,0.620),(1129.8,0.57),(1129.87,0.620),(1130.33,0.619),(1130.4,0.58),(1130.47,0.619),(1130.72,0.618),(1130.8,0.50),(1130.88,0.618),(1131.23,0.617),(1131.3,0.57),(1131.37,0.617),(1131.83,0.615),(1131.9,0.58),(1131.97,0.615),(1132.43,0.614),(1132.5,0.57),(1132.57,0.614),(1133.03,0.612),(1133.1,0.56),(1133.17,0.612),(1133.43,0.611),(1133.5,0.58),(1133.57,0.611),(1133.9,0.610),(1134.0,0.407),(1134.1,0.610),(1134.43,0.609),(1134.5,0.55),(1134.57,0.609),(1134.93,0.607),(1135.0,0.55),(1135.07,0.607),(1135.43,0.606),(1135.5,0.56),(1135.57,0.606),(1136.03,0.606),(1136.1,0.56),(1136.17,0.606),(1136.63,0.605),(1136.7,0.57),(1136.77,0.605),(1137.23,0.604),(1137.3,0.56),(1137.37,0.604),(1137.83,0.603),(1137.9,0.57),(1137.97,0.603),(1138.33,0.602),(1138.4,0.55),(1138.47,0.602),(1138.93,0.601),(1139.0,0.56),(1139.07,0.601),(1139.53,0.601),(1139.6,0.55),(1139.67,0.601),(1140.13,0.600),(1140.2,0.56),(1140.27,0.600),(1140.63,0.599),(1140.7,0.55),(1140.77,0.599),(1141.23,0.597),(1141.3,0.56),(1141.37,0.597),(1141.83,0.596),(1141.9,0.56),(1141.97,0.596),(1142.43,0.595),(1142.5,0.55),(1142.57,0.595),(1143.03,0.594),(1143.1,0.55),(1143.17,0.594),(1143.63,0.593),(1143.7,0.52),(1143.77,0.593),(1144.22,0.591),(1144.3,0.45),(1144.38,0.591),(1144.93,0.590),(1145.0,0.55),(1145.07,0.590),(1145.43,0.589),(1145.5,0.55),(1145.57,0.589),(1146.03,0.589),(1146.1,0.56),(1146.17,0.589),(1146.63,0.588),(1146.7,0.54),(1146.77,0.588),(1147.23,0.588),(1147.3,0.55),(1147.37,0.588),(1147.83,0.587),(1147.9,0.54),(1147.97,0.587),(1148.43,0.587),(1148.5,0.55),(1148.57,0.587),(1149.03,0.586),(1149.1,0.53),(1149.17,0.586),(1149.63,0.585),(1149.7,0.55),(1149.77,0.585),(1150.23,0.584),(1150.3,0.54),(1150.37,0.584),(1150.83,0.583),(1150.9,0.54),(1150.97,0.583),(1151.43,0.581),(1151.5,0.55),(1151.57,0.581),(1152.03,0.580),(1152.1,0.54),(1152.17,0.580),(1152.67,0.578),(1152.75,0.46),(1152.83,0.578),(1153.33,0.576),(1153.4,0.54),(1153.47,0.576),(1154.12,0.574),(1154.2,0.465),(1154.28,0.574),(1154.83,0.572),(1154.9,0.53),(1154.97,0.572),(1155.43,0.572),(1155.5,0.52),(1155.57,0.572),(1156.03,0.571),(1156.1,0.54),(1156.17,0.571),(1156.63,0.570),(1156.7,0.53),(1156.77,0.570),(1157.23,0.570),(1157.3,0.54),(1157.37,0.570),(1157.73,0.569),(1157.8,0.50),(1157.87,0.569),(1158.33,0.569),(1158.4,0.54),(1158.47,0.569),(1158.93,0.568),(1159.0,0.51),(1159.07,0.568),(1159.53,0.567),(1159.6,0.53),(1159.67,0.567),(1160.23,0.567),(1160.3,0.52),(1160.37,0.567),(1160.83,0.566),(1160.9,0.54),(1160.97,0.566),(1161.43,0.566),(1161.5,0.53),(1161.57,0.566),(1161.93,0.565),(1162.0,0.48),(1162.07,0.565),(1162.53,0.565),(1162.6,0.53),(1162.67,0.565),(1163.33,0.564),(1163.4,0.47),(1163.47,0.564),(1163.93,0.563),(1164.0,0.53),(1164.07,0.563),(1164.53,0.562),(1164.6,0.52),(1164.67,0.562),(1165.52,0.560),(1165.6,0.455),(1165.68,0.560),(1166.13,0.559),(1166.2,0.53),(1166.27,0.559),(1167.03,0.556),(1167.1,0.50),(1167.17,0.556),(1167.52,0.555),(1167.6,0.426),(1167.68,0.555),(1168.13,0.553),(1168.2,0.52),(1168.27,0.553),(1168.88,0.551),(1169.0,0.45),(1169.12,0.551),(1169.53,0.549),(1169.6,0.52),(1169.67,0.549),(1170.13,0.548),(1170.2,0.52),(1170.27,0.548),(1170.73,0.547),(1170.8,0.52),(1170.87,0.547),(1171.33,0.547),(1171.4,0.51),(1171.47,0.547),(1171.93,0.546),(1172.0,0.51),(1172.07,0.546),(1172.53,0.545),(1172.6,0.52),(1172.67,0.545),(1173.13,0.545),(1173.2,0.50),(1173.27,0.545),(1173.63,0.544),(1173.7,0.48),(1173.77,0.544),(1174.13,0.544),(1174.2,0.48),(1174.27,0.544),(1174.63,0.543),(1174.7,0.49),(1174.77,0.543),(1175.13,0.543),(1175.2,0.48),(1175.27,0.543),(1175.62,0.542),(1175.7,0.417),(1175.78,0.542),(1176.13,0.542),(1176.2,0.48),(1176.27,0.542),(1176.63,0.541),(1176.7,0.49),(1176.77,0.541),(1177.23,0.540),(1177.3,0.47),(1177.37,0.540),(1177.73,0.540),(1177.8,0.49),(1177.87,0.540),(1178.23,0.539),(1178.3,0.49),(1178.37,0.539),(1178.82,0.538),(1178.9,0.455),(1178.98,0.538),(1179.33,0.538),(1179.4,0.49),(1179.47,0.538),(1179.83,0.537),(1179.9,0.47),(1179.97,0.537),(1180.33,0.537),(1180.4,0.49),(1180.47,0.537),(1180.73,0.536),(1180.8,0.50),(1180.87,0.536),(1181.1,0.535)]

# ---------------- line identifications: (label, line wavelengths, label wavelength, level kind) ----------------
IDS_P1 = [
    ("O IV", [921.30, 923.37], 922.35, "up"),
    ("S V", [924.2], 924.2, "up"),
    ("S VI", [933.38], 933.38, "up"),
    ("S VI", [944.52], 944.52, "up"),
    ("N IV", [955.33], 955.33, "up"),
    ("C III", [977.03], 977.03, "up"),
    ("N IV", [922.0, 922.55, 923.06, 923.22, 923.7, 924.3], 923.1, "mid"),
    ("P IV", [950.66], 950.66, "mid"),
    ("Fe V", [956.5, 956.9, 957.95, 960.15, 962.0, 962.45, 963.4, 963.9, 964.97, 966.05, 966.2, 966.35, 966.7, 967.05, 967.2], 960.75, "fe"),
    ("Fe V", [977.45, 977.9, 978.0, 978.05, 978.5, 979.0, 979.5, 980.2, 980.75, 980.98], 979.47, "fe"),
]
IDS_P2 = [
    ("N III", [989.84], 989.84, "up"),
    ("N III", [991.52], 991.52, "up"),
    ("S V", [994.46], 994.46, "up"),
    ("P V", [997.5], 997.5, "up"),
    ("S VI", [1000.4], 1000.3, "up"),
    ("P V", [1000.5], 1001.0, "up"),
    ("S VI", [1000.52], 1001.75, "up"),
    ("P IV", [1006.25], 1006.25, "up"),
    ("P IV", [1028.06], 1028.06, "up"),
    ("P IV", [1030.5], 1030.5, "up"),
    ("O VI", [1031.92], 1031.92, "up"),
    ("P IV", [1033.1], 1033.1, "up"),
    ("P IV", [1035.5], 1035.5, "up"),
    ("N IV", [1036.2], 1036.2, "up"),
    ("O VI", [1037.6], 1037.6, "up"),
    ("S V", [1039.87], 1039.87, "up"),
    ("O V", [1040.05], 1040.6, "up"),
    ("O IV", [1047.5], 1047.5, "up"),
    ("Fe V", [981.3, 981.5, 981.7, 981.9, 982.15, 982.4, 982.6, 982.85, 982.92, 983.0, 983.15, 983.35, 983.65, 983.9, 984.2], 982.15, "fe"),
    ("Fe V", [985.15, 985.5, 985.7, 986.1, 986.2, 986.85, 987.3], 986.2, "fe"),
    ("Fe V", [988.46, 988.6], 988.55, "fe"),
    ("Fe V", [989.67, 989.8, 989.93, 990.02, 990.2, 990.35, 990.65, 990.98, 991.13, 991.3, 991.42, 991.52, 991.75, 991.9, 992.03, 992.2, 992.4, 992.6, 992.75, 992.85, 993.05, 993.2, 993.3, 993.55, 993.75, 993.85, 993.97, 994.15, 994.3, 994.45, 994.55, 994.65, 995.0, 995.3, 995.55, 995.76], 990.2, "fe"),
    ("Fe V", [], 993.4, "fe"),
    ("Fe V", [996.76, 997.0, 997.25, 997.45, 997.55, 997.65, 997.75, 997.85, 997.95, 998.05, 998.15, 998.25, 998.35, 998.55, 998.8, 999.5, 999.73, 999.95, 1000.3, 1000.75, 1001.25, 1001.45, 1001.8, 1002.1, 1002.65, 1002.9, 1003.1], 999.73, "fe"),
    ("Fe V", [1004.6, 1004.95, 1005.5, 1006.0, 1006.45, 1006.65, 1007.3, 1007.45, 1008.0, 1008.3], 1006.4, "fe"),
    ("Fe V", [1009.2, 1009.3, 1009.35, 1009.45, 1009.8, 1010.35, 1011.35, 1011.85, 1012.15, 1012.3], 1010.3, "fe"),
    ("Fe V", [1013.7, 1013.85, 1015.2, 1015.3, 1015.65, 1016.0, 1016.65, 1016.8, 1016.9, 1017.1, 1017.2, 1017.3, 1017.4, 1018.0, 1018.2], 1015.15, "fe"),
    ("Fe V", [1028.85, 1029.64, 1030.14, 1030.3, 1030.77], 1029.8, "fe"),
    ("Fe V", [1035.85, 1038.67, 1038.78, 1039.05, 1041.38, 1043.6, 1043.93, 1047.86, 1049.6], 1042.78, "fe"),
]
IDS_P3 = [
    ("Ni V", [1057.86], 1057.86, "up"),
    ("Ni V", [1058.75], 1058.75, "up"),
    ("S IV", [1062.68], 1062.68, "up"),
    ("Si IV", [1066.66], 1066.66, "up"),
    ("S IV", [1073.0], 1073.0, "up"),
    ("S IV", [1073.45], 1073.7, "up"),
    ("S IV", [1099.46], 1099.46, "up"),
    ("C IV", [1107.57], 1107.57, "up"),
    ("C IV", [1107.8], 1108.3, "up"),
    ("S VI", [1117.8], 1117.8, "up"),
    ("P V", [1117.95], 1118.5, "up"),
    ("P IV", [1118.55], 1119.25, "up"),
    ("Fe V", [1050.07, 1050.12, 1053.6, 1054.0, 1057.0, 1058.7, 1061.36, 1063.0], 1056.55, "fe"),
    ("Fe V", [1069.5, 1071.93, 1075.3, 1075.45, 1075.65, 1075.8, 1076.0, 1076.75, 1078.1, 1079.05, 1079.77], 1077.57, "fe"),
    ("Fe V", [], 1072.4, "fe"),
    ("Fe V", [1092.5, 1104.5, 1106.7, 1112.67], 1102.6, "fe"),
    ("Fe VI", [1110.68, 1115.1, 1115.6, 1119.07], 1114.9, "fe6"),
    ("Ni V", [1057.86, 1058.75], 1058.3, "low"),
    ("Ni V", [1074.66, 1075.23, 1081.14], 1077.9, "low"),
    ("Ni V", [1089.5, 1093.4, 1094.8], 1092.2, "low"),
    ("Ni V", [1105.57, 1115.3], 1110.5, "low"),
]
IDS_P4 = [
    ("Fe VI", [1120.95, 1121.15], 1121.05, "fe6a"),
    ("S V", [1122.0], 1122.0, "up"),
    ("Si IV", [1122.45], 1122.75, "up"),
    ("P V", [1128.0], 1128.0, "up"),
    ("Si IV", [1128.3], 1128.7, "up"),
    ("S V", [1128.55], 1129.45, "up"),
    ("S V", [1134.0], 1134.0, "up"),
    ("C IV", [1169.0], 1169.0, "up"),
    ("C III", [1174.95, 1175.3, 1175.6, 1175.75, 1175.95, 1176.45], 1175.7, "up"),
    ("Fe IV", [1177.8], 1177.8, "feiv"),
    ("Fe V", [1120.5, 1121.0, 1122.1, 1122.7, 1123.2], 1121.9, "fe"),
    ("Fe V", [1126.0, 1126.9, 1128.4, 1130.6, 1130.7, 1130.75], 1128.4, "fe"),
    ("Fe V", [1133.45, 1134.5, 1136.8, 1139.4, 1140.6, 1141.6, 1142.3, 1143.9], 1138.7, "fe"),
    ("Fe V", [1145.3, 1145.4, 1147.0, 1148.6, 1149.1, 1151.7, 1152.6], 1148.9, "fe"),
    ("Ni V", [1120.9, 1124.3, 1128.0], 1124.4, "niup"),
    ("Fe VI", [1152.8, 1160.5, 1165.7, 1167.75, 1167.9, 1170.3], 1161.56, "fe6"),
    ("Fe V", [1155.0, 1155.7, 1155.85, 1156.35, 1157.6, 1157.7, 1165.7], 1160.35, "fe5b"),
    ("Ni V", [1135.05, 1138.25, 1139.1], 1137.05, "low"),
    ("Ni V", [1143.7, 1144.25, 1145.2, 1148.0, 1149.9, 1150.1, 1151.1, 1152.0, 1152.7, 1158.1, 1159.04, 1160.16, 1163.5, 1163.9, 1165.6, 1165.85], 1159.2, "low"),
    ("Ni V", [1166.7, 1167.1, 1168.65, 1170.3, 1171.2, 1172.45, 1174.2, 1177.05, 1179.0], 1175.7, "low"),
]

# ------------------------------------------------------------------
# STYLE / LAYOUT
# ------------------------------------------------------------------
W, H = 1362, 1328
PLOT_L, PLOT_R = 53, 1350
PANEL_PX = [(12, 303), (336, 628), (660, 951), (984, 1275)]   # top / bottom pixel of each panel
FONT = "Liberation Sans, Arial, Helvetica, sans-serif"
INK = "#262626"
COL_GREY, COL_BLUE, COL_RED = "#867e89", "#0000ff", "#ff0000"

LEVELS = [
    {"up": dict(lo=1.18, hi=1.32, bar=1.31, ctop=1.33, lab=1.345, dir="down", fs=13, bend=0.02),
     "fe": dict(lo=1.08, bar=1.21, ctop=1.23, lab=1.285, dir="down", fs=13),
     "mid": dict(lo=0.707, hi=0.853, bar=0.78, ctop=0.843, lab=0.868, dir="down", fs=13)},
    {"up": dict(lo=1.32, hi=1.42, lab=1.44, dir="down", fs=13, bend=0.02),
     "fe": dict(lo=1.04, bar=1.128, ctop=1.14, lab=1.19, dir="down", fs=11)},
    {"up": dict(lo=1.267, hi=1.364, bar=1.318, ctop=1.364, lab=1.385, dir="down", fs=13, bend=0.015),
     "fe": dict(lo=0.94, bar=1.025, ctop=1.04, lab=1.105, dir="down", fs=13),
     "fe6": dict(lo=0.75, bar=0.837, ctop=0.85, lab=0.92, dir="down", fs=13),
     "low": dict(hi=0.376, bar=0.289, ctop=0.27, lab=0.255, dir="up", fs=13)},
    {"up": dict(lo=1.267, hi=1.364, bar=1.318, ctop=1.364, lab=1.385, dir="down", fs=13, bend=0.015),
     "fe6a": dict(lo=1.083, bar=1.163, ctop=1.163, lab=1.25, dir="down", fs=13),
     "fe": dict(lo=0.85, bar=0.93, ctop=0.945, lab=1.01, dir="down", fs=13),
     "niup": dict(lo=0.70, bar=0.735, ctop=0.75, lab=0.815, dir="down", fs=13),
     "fe6": dict(lo=1.08, bar=1.167, ctop=1.18, lab=1.25, dir="down", fs=13),
     "fe5b": dict(lo=0.75, bar=0.835, ctop=0.85, lab=0.925, dir="down", fs=13),
     "feiv": dict(lo=1.08, hi=1.17, lab=1.195, dir="down", fs=13),
     "low": dict(hi=0.376, bar=0.289, ctop=0.27, lab=0.255, dir="up", fs=13)},
]

SPECTRA = [(P1_GREY, P1_BLUE, P1_RED), (P2_GREY, P2_BLUE, P2_RED),
           (P3_GREY, P3_BLUE, P3_RED), (P4_GREY, P4_BLUE, P4_RED)]
IDS = [IDS_P1, IDS_P2, IDS_P3, IDS_P4]

plot_w = PLOT_R - PLOT_L
plot_h = PANEL_PX[-1][1] - PANEL_PX[0][0]
top0 = PANEL_PX[0][0]


def ypaper(px):
    return 1 - (px - top0) / plot_h


fig = go.Figure()
annotations = []

for i in range(4):
    xa = "x" if i == 0 else f"x{i+1}"
    ya = "y" if i == 0 else f"y{i+1}"
    for series, col, lw in zip(SPECTRA[i], (COL_GREY, COL_BLUE, COL_RED), (1.0, 1.2, 1.2)):
        wv = [p[0] for p in series]
        fl = [p[1] for p in series]
        fig.add_trace(go.Scatter(x=wv, y=fl, mode="lines", line=dict(color=col, width=lw),
                                 xaxis=xa, yaxis=ya, hoverinfo="skip", showlegend=False))

    # line identification marks
    lx_all, ly_all = [], []

    def seg(pts):
        for (a, b) in pts:
            lx_all.append(a)
            ly_all.append(b)
        lx_all.append(None)
        ly_all.append(None)

    for label, waves, lwv, kind in IDS[i]:
        L = LEVELS[i][kind]
        if L["dir"] == "down":
            if len(waves) == 1:
                w0 = waves[0]
                if abs(lwv - w0) < 1e-6:
                    seg([(w0, L["lo"]), (w0, L["hi"])])
                else:
                    b = L.get("bend", 0.02)
                    seg([(lwv, L["hi"]), (lwv, L["hi"] - b), (w0, L["hi"] - b), (w0, L["lo"])])
            else:
                if waves:
                    seg([(min(waves), L["bar"]), (max(waves), L["bar"])])
                    for w0 in waves:
                        seg([(w0, L["bar"]), (w0, L["lo"])])
                if L["ctop"] > L["bar"]:
                    seg([(lwv, L["bar"]), (lwv, L["ctop"])])
            annotations.append(dict(x=lwv, y=L["lab"], xref=xa, yref=ya, text=label, showarrow=False,
                                    textangle=-90, xanchor="center", yanchor="bottom",
                                    font=dict(family=FONT, size=L["fs"], color=INK)))
        else:
            seg([(min(waves), L["bar"]), (max(waves), L["bar"])])
            for w0 in waves:
                seg([(w0, L["bar"]), (w0, L["hi"])])
            seg([(lwv, L["bar"]), (lwv, L["ctop"])])
            annotations.append(dict(x=lwv, y=L["lab"], xref=xa, yref=ya, text=label, showarrow=False,
                                    textangle=-90, xanchor="center", yanchor="top",
                                    font=dict(family=FONT, size=L["fs"], color=INK)))
    fig.add_trace(go.Scatter(x=lx_all, y=ly_all, mode="lines", line=dict(color=INK, width=1),
                             xaxis=xa, yaxis=ya, hoverinfo="skip", showlegend=False, connectgaps=False))

    t, b = PANEL_PX[i]
    axis_common = dict(showline=True, linecolor=INK, linewidth=1.2, mirror="allticks",
                       ticks="inside", tickcolor=INK, tickwidth=1, showgrid=False, zeroline=False,
                       tickfont=dict(family=FONT, size=18, color=INK))
    fig.layout[("xaxis" if i == 0 else f"xaxis{i+1}")] = dict(
        domain=[0, 1], anchor=ya, range=list(PANEL_RANGES[i]), tickmode="linear", tick0=0, dtick=5,
        ticklen=14, minor=dict(dtick=1, tick0=0, ticklen=7, ticks="inside", tickcolor=INK, tickwidth=1),
        ticklabelstandoff=1, **axis_common)
    fig.layout[("yaxis" if i == 0 else f"yaxis{i+1}")] = dict(
        domain=[ypaper(b), ypaper(t)], anchor=xa, range=list(Y_RANGE), tickmode="linear", tick0=0, dtick=1,
        ticklen=13, minor=dict(dtick=0.1, tick0=0, ticklen=7, ticks="inside", tickcolor=INK, tickwidth=1),
        ticklabelstandoff=12, **axis_common)

annotations.append(dict(x=(18 - PLOT_L) / plot_w, y=ypaper(640), xref="paper", yref="paper",
                        text="relative flux", showarrow=False, textangle=-90,
                        font=dict(family=FONT, size=20, color=INK), xanchor="center", yanchor="middle"))
annotations.append(dict(x=(704 - PLOT_L) / plot_w, y=ypaper(1317), xref="paper", yref="paper",
                        text="wavelength / Å", showarrow=False,
                        font=dict(family=FONT, size=20, color=INK), xanchor="center", yanchor="middle"))

fig.update_layout(width=W, height=H, margin=dict(l=PLOT_L, r=W - PLOT_R, t=top0, b=H - PANEL_PX[-1][1]),
                  paper_bgcolor="white", plot_bgcolor="white", annotations=annotations,
                  font=dict(family=FONT, color=INK), showlegend=False)

fig.write_html("out.html", config={"displayModeBar": False})
